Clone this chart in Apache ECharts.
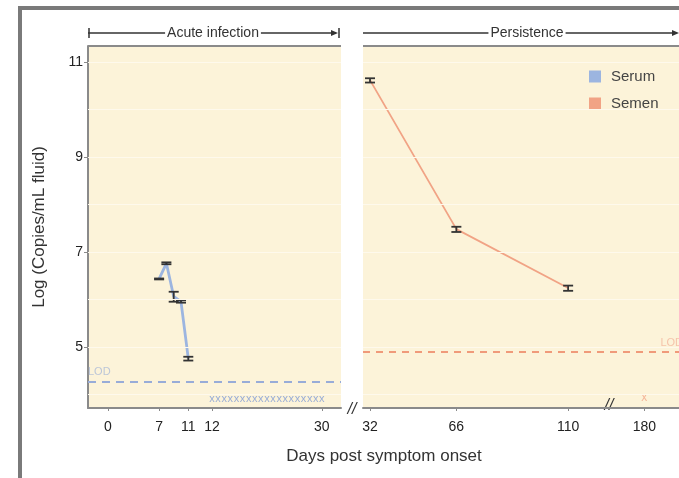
<!DOCTYPE html>
<html>
<head>
<meta charset="utf-8">
<script src="https://cdn.jsdelivr.net/npm/echarts@6/dist/echarts.min.js"></script>
<style>
  html, body { margin: 0; padding: 0; background: #fff; }
  #chart { width: 679px; height: 478px; }
</style>
</head>
<body>
<div id="chart"></div>
<script>
// serum, acute phase
const serumDays = [7, 8, 9, 10, 11]
const serumValues = [6.43, 6.76, 6.06, 5.95, 4.75]
const serumLow = [6.42, 6.74, 5.95, 5.93, 4.71]
const serumHigh = [6.44, 6.78, 6.16, 5.98, 4.79]
const serumUndetectedDays = [12, 13, 14, 15, 16, 17, 18, 19, 20, 21, 22, 23, 24, 25, 26, 27, 28, 29, 30]
const serumUndetectedValue = 3.89
const serumLOD = 4.27

// semen, persistence phase
const semenDays = [32, 66, 110]
const semenValues = [10.62, 7.48, 6.24]
const semenLow = [10.57, 7.42, 6.18]
const semenHigh = [10.66, 7.53, 6.29]
const semenUndetectedDays = [180]
const semenUndetectedValue = 3.93
const semenLOD = 4.89

const leftTickDays = [0, 7, 11, 12, 30]
const rightTickDays = [32, 66, 110, 180]
const yTickValues = [5, 7, 9, 11]
const yGridValues = [4, 5, 6, 7, 8, 9, 10, 11]

// broken axes: days are placed on piecewise scales
const leftPos = d => d <= 11 ? d : 14.25 + (d - 12) * 0.836
const rightPos = d => d <= 110 ? d : 140 + (d - 180)

const nearestLabel = (v, days, pos) => {
    let best = 0
    days.forEach((d, i) => {
        if (Math.abs(pos(d) - v) < Math.abs(pos(days[best]) - v)) best = i
    })
    return String(days[best])
}

const fontFamily = '"Liberation Sans", Arial, sans-serif'
const serumColor = '#9cb5e0'
const semenColor = '#f1a385'
const panelFill = '#fcf3d9'
const axisGray = '#8a8a8a'

// fresh objects for every series, echarts changes them in place
const gridMarks = () => yGridValues.map(v => ({
    yAxis: v,
    lineStyle: { color: '#fef9ec', width: 1, type: 'solid' },
    label: { show: false }
}))

const errorBars = (params, api) => {
    const x = api.value(0)
    const lo = api.coord([x, api.value(1)])
    const hi = api.coord([x, api.value(2)])
    const w = 5
    const style = { stroke: '#333', lineWidth: 1.8 }
    return {
        type: 'group',
        children: [
            { type: 'line', shape: { x1: lo[0], y1: lo[1], x2: hi[0], y2: hi[1] }, style: style },
            { type: 'line', shape: { x1: lo[0] - w, y1: lo[1], x2: lo[0] + w, y2: lo[1] }, style: style },
            { type: 'line', shape: { x1: hi[0] - w, y1: hi[1], x2: hi[0] + w, y2: hi[1] }, style: style }
        ]
    }
}

const chart = echarts.init(document.getElementById('chart'))

chart.setOption({
    animation: false,
    textStyle: { fontFamily: fontFamily },
    legend: {
        data: ['Serum', 'Semen'],
        orient: 'vertical',
        left: 584,
        top: 64,
        icon: 'rect',
        itemWidth: 12,
        itemHeight: 12,
        itemGap: 12,
        selectedMode: false,
        textStyle: { fontSize: 15, color: '#444', padding: [0, 0, 0, 5] }
    },
    grid: [
        { left: 88, top: 46, width: 253, height: 362, show: true, backgroundColor: panelFill, borderWidth: 0 },
        { left: 363, top: 46, width: 316, height: 362, show: true, backgroundColor: panelFill, borderWidth: 0 }
    ],
    xAxis: [
        {
            gridIndex: 0, type: 'value', min: -2.74, max: 31.92,
            axisLine: { onZero: false, lineStyle: { color: axisGray, width: 2 } },
            axisTick: { customValues: leftTickDays.map(leftPos), length: 3, lineStyle: { color: axisGray } },
            axisLabel: {
                customValues: leftTickDays.map(leftPos), fontSize: 14, color: '#222', margin: 12,
                formatter: v => nearestLabel(v, leftTickDays, leftPos)
            },
            splitLine: { show: false }
        },
        {
            gridIndex: 1, type: 'value', min: 29.24, max: 153.65,
            axisLine: { onZero: false, lineStyle: { color: axisGray, width: 2 } },
            axisTick: { customValues: rightTickDays.map(rightPos), length: 3, lineStyle: { color: axisGray } },
            axisLabel: {
                customValues: rightTickDays.map(rightPos), fontSize: 14, color: '#222', margin: 12,
                formatter: v => nearestLabel(v, rightTickDays, rightPos)
            },
            splitLine: { show: false }
        }
    ],
    yAxis: [
        {
            gridIndex: 0, type: 'value', min: 3.71, max: 11.34,
            name: 'Log (Copies/mL fluid)',
            nameLocation: 'middle',
            nameGap: 40,
            nameTextStyle: { fontSize: 17, color: '#333' },
            axisLine: { show: true, onZero: false, lineStyle: { color: axisGray, width: 2 } },
            axisTick: { customValues: yTickValues, length: 4, lineStyle: { color: axisGray } },
            axisLabel: { customValues: yTickValues, fontSize: 14, color: '#222', margin: 5 },
            splitLine: { show: false }
        },
        {
            gridIndex: 1, type: 'value', min: 3.71, max: 11.34,
            axisLine: { show: false },
            axisTick: { show: false },
            axisLabel: { show: false },
            splitLine: { show: false }
        }
    ],
    series: [
        {
            name: 'Serum',
            type: 'line',
            xAxisIndex: 0, yAxisIndex: 0,
            color: serumColor,
            showSymbol: false,
            lineStyle: { width: 2.8, color: serumColor },
            data: serumDays.map((d, i) => [leftPos(d), serumValues[i]]),
            markLine: {
                silent: true,
                symbol: 'none',
                data: gridMarks().concat([{
                    yAxis: serumLOD,
                    lineStyle: { color: '#98acd8', width: 2, type: [8, 6] },
                    label: { show: true, formatter: 'LOD', position: 'insideStartTop', color: '#bcc6d8', fontSize: 11, distance: [0, 4] }
                }])
            },
            z: 3
        },
        {
            name: 'Serum errors',
            type: 'custom',
            xAxisIndex: 0, yAxisIndex: 0,
            renderItem: errorBars,
            data: serumDays.map((d, i) => [leftPos(d), serumLow[i], serumHigh[i]]),
            z: 4
        },
        {
            name: 'Serum undetected',
            type: 'scatter',
            xAxisIndex: 0, yAxisIndex: 0,
            symbolSize: 0,
            label: { show: true, position: 'inside', formatter: 'x', color: '#7f9bd4', fontSize: 11 },
            data: serumUndetectedDays.map(d => [leftPos(d), serumUndetectedValue])
        },
        {
            name: 'Semen',
            type: 'line',
            xAxisIndex: 1, yAxisIndex: 1,
            color: semenColor,
            showSymbol: false,
            lineStyle: { width: 1.8, color: semenColor },
            data: semenDays.map((d, i) => [rightPos(d), semenValues[i]]),
            markLine: {
                silent: true,
                symbol: 'none',
                data: gridMarks().concat([{
                    yAxis: semenLOD,
                    lineStyle: { color: '#f09a7a', width: 2, type: [7, 6] },
                    label: { show: true, formatter: 'LOD', position: 'insideEndTop', color: '#f5c3aa', fontSize: 11, distance: [-4, 4] }
                }])
            },
            z: 3
        },
        {
            name: 'Semen errors',
            type: 'custom',
            xAxisIndex: 1, yAxisIndex: 1,
            renderItem: errorBars,
            data: semenDays.map((d, i) => [rightPos(d), semenLow[i], semenHigh[i]]),
            z: 4
        },
        {
            name: 'Semen undetected',
            type: 'scatter',
            xAxisIndex: 1, yAxisIndex: 1,
            symbolSize: 0,
            label: { show: true, position: 'inside', formatter: 'x', color: '#f2a88a', fontSize: 12 },
            data: semenUndetectedDays.map(d => [rightPos(d), semenUndetectedValue])
        }
    ],
    graphic: [
        // outer frame
        { type: 'rect', shape: { x: 18, y: 6, width: 661, height: 4 }, style: { fill: '#7a7a7a' } },
        { type: 'rect', shape: { x: 18, y: 6, width: 4, height: 472 }, style: { fill: '#7a7a7a' } },
        // panel top borders
        { type: 'rect', shape: { x: 88, y: 45, width: 253, height: 2 }, style: { fill: axisGray } },
        { type: 'rect', shape: { x: 363, y: 45, width: 316, height: 2 }, style: { fill: axisGray } },
        // acute infection bracket
        { type: 'line', shape: { x1: 88, y1: 33, x2: 336, y2: 33 }, style: { stroke: '#333', lineWidth: 1.5 } },
        { type: 'line', shape: { x1: 89, y1: 28, x2: 89, y2: 38 }, style: { stroke: '#333', lineWidth: 1.5 } },
        { type: 'line', shape: { x1: 339, y1: 28, x2: 339, y2: 38 }, style: { stroke: '#333', lineWidth: 1.5 } },
        { type: 'polygon', shape: { points: [[338, 33], [331, 30], [331, 36]] }, style: { fill: '#333' } },
        {
            type: 'text', x: 213, y: 33,
            style: { text: 'Acute infection', fontSize: 14, fill: '#333', fontFamily: fontFamily, align: 'center', verticalAlign: 'middle', backgroundColor: '#fff', padding: [0, 2] }
        },
        // persistence bracket
        { type: 'line', shape: { x1: 363, y1: 33, x2: 676, y2: 33 }, style: { stroke: '#333', lineWidth: 1.5 } },
        { type: 'polygon', shape: { points: [[679, 33], [672, 30], [672, 36]] }, style: { fill: '#333' } },
        {
            type: 'text', x: 527, y: 33,
            style: { text: 'Persistence', fontSize: 14, fill: '#333', fontFamily: fontFamily, align: 'center', verticalAlign: 'middle', backgroundColor: '#fff', padding: [0, 2] }
        },
        // axis breaks
        {
            type: 'text', x: 352, y: 410,
            style: { text: '//', fontSize: 16, fill: '#333', fontFamily: fontFamily, align: 'center', verticalAlign: 'middle', fontStyle: 'italic' }
        },
        {
            type: 'text', x: 609, y: 406,
            style: { text: '//', fontSize: 16, fill: '#333', fontFamily: fontFamily, align: 'center', verticalAlign: 'middle', fontStyle: 'italic' }
        },
        // x axis title
        {
            type: 'text', x: 384, y: 456,
            style: { text: 'Days post symptom onset', fontSize: 17, fill: '#333', fontFamily: fontFamily, align: 'center', verticalAlign: 'middle' }
        }
    ]
})
</script>
</body>
</html>
